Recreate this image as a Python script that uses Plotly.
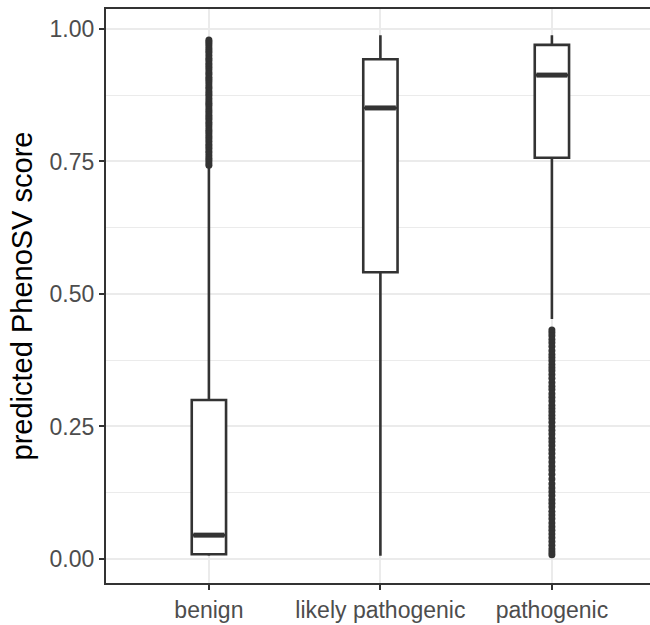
import plotly.graph_objects as go

categories = ["benign", "likely pathogenic", "pathogenic"]
lower_whisker = [0.006, 0.006, 0.453]
q1_vals = [0.009, 0.541, 0.757]
median_vals = [0.045, 0.851, 0.913]
q3_vals = [0.300, 0.943, 0.970]
upper_whisker = [0.738, 0.988, 0.988]

benign_outliers = [0.743, 0.747, 0.752, 0.756, 0.761, 0.766, 0.770, 0.775, 0.779, 0.783,
                   0.788, 0.793, 0.797, 0.802, 0.806, 0.810, 0.815, 0.820, 0.824, 0.829,
                   0.833, 0.837, 0.842, 0.846, 0.851, 0.856, 0.860, 0.864, 0.869, 0.874,
                   0.878, 0.882, 0.887, 0.891, 0.896, 0.901, 0.905, 0.909, 0.914, 0.918,
                   0.923, 0.928, 0.932, 0.936, 0.941, 0.945, 0.950, 0.955, 0.959, 0.963,
                   0.968, 0.972, 0.976, 0.979]
pathogenic_outliers = [0.432, 0.427, 0.421, 0.414, 0.408, 0.401, 0.393, 0.386, 0.380, 0.374,
                       0.367, 0.361, 0.355, 0.348, 0.341, 0.333, 0.326, 0.320, 0.312, 0.305,
                       0.298, 0.290, 0.284, 0.278, 0.271, 0.265, 0.258, 0.250, 0.243, 0.236,
                       0.228, 0.221, 0.214, 0.206, 0.199, 0.191, 0.183, 0.175, 0.168, 0.160,
                       0.151, 0.142, 0.134, 0.127, 0.120, 0.112, 0.105, 0.098, 0.090, 0.083,
                       0.076, 0.068, 0.061, 0.054, 0.047, 0.040, 0.033, 0.026, 0.019, 0.013,
                       0.008]
outliers = [benign_outliers, [], pathogenic_outliers]

y_ticks = [0.0, 0.25, 0.5, 0.75, 1.0]
y_ticklabels = ["0.00", "0.25", "0.50", "0.75", "1.00"]

DARK = "#333333"
BOX_W = 0.2
positions = [1, 2, 3]

fig = go.Figure()
for i, cat in enumerate(categories):
    fig.add_trace(go.Box(
        x=[positions[i]], q1=[q1_vals[i]], median=[median_vals[i]], q3=[q3_vals[i]],
        lowerfence=[lower_whisker[i]], upperfence=[upper_whisker[i]],
        width=BOX_W, whiskerwidth=0, fillcolor="white",
        line=dict(color=DARK, width=2.6), boxpoints=False, showlegend=False,
        hoverinfo="skip", name=cat,
    ))
    # thicker median line like ggplot
    fig.add_trace(go.Scatter(
        x=[positions[i] - BOX_W / 2 + 0.01, positions[i] + BOX_W / 2 - 0.01],
        y=[median_vals[i], median_vals[i]], mode="lines",
        line=dict(color=DARK, width=5), showlegend=False, hoverinfo="skip",
    ))
    if outliers[i]:
        fig.add_trace(go.Scatter(
            x=[positions[i]] * len(outliers[i]), y=outliers[i], mode="markers",
            marker=dict(color=DARK, size=7), showlegend=False, hoverinfo="skip",
        ))

fig.update_layout(
    width=650, height=625,
    margin=dict(l=106, r=0, t=9, b=42),
    plot_bgcolor="white", paper_bgcolor="white",
    font=dict(family="Liberation Sans, Arial, sans-serif"),
)
fig.update_xaxes(
    range=[0.4, 0.4 + 544 / 171.5],
    tickmode="array", tickvals=positions, ticktext=categories,
    showgrid=True, gridcolor="#EBEBEB", gridwidth=2,
    showline=True, linecolor=DARK, linewidth=2.2, mirror=True,
    ticks="outside", ticklen=5, tickwidth=2, tickcolor=DARK,
    tickfont=dict(size=23, color="#4D4D4D"), zeroline=False,
)
fig.update_yaxes(
    range=[-0.0453, 1.0377],
    tickmode="array", tickvals=y_ticks, ticktext=y_ticklabels,
    showgrid=True, gridcolor="#EBEBEB", gridwidth=2,
    minor=dict(tickvals=[0.125, 0.375, 0.625, 0.875], showgrid=True,
               gridcolor="#EBEBEB", gridwidth=1, ticks=""),
    showline=True, linecolor=DARK, linewidth=2.2, mirror=False,
    ticks="outside", ticklen=5, tickwidth=2, tickcolor=DARK,
    tickfont=dict(size=23, color="#4D4D4D"), zeroline=False,
    title=dict(text="predicted PhenoSV score", font=dict(size=29, color="black"), standoff=8),
)

fig.write_html("out.html")
